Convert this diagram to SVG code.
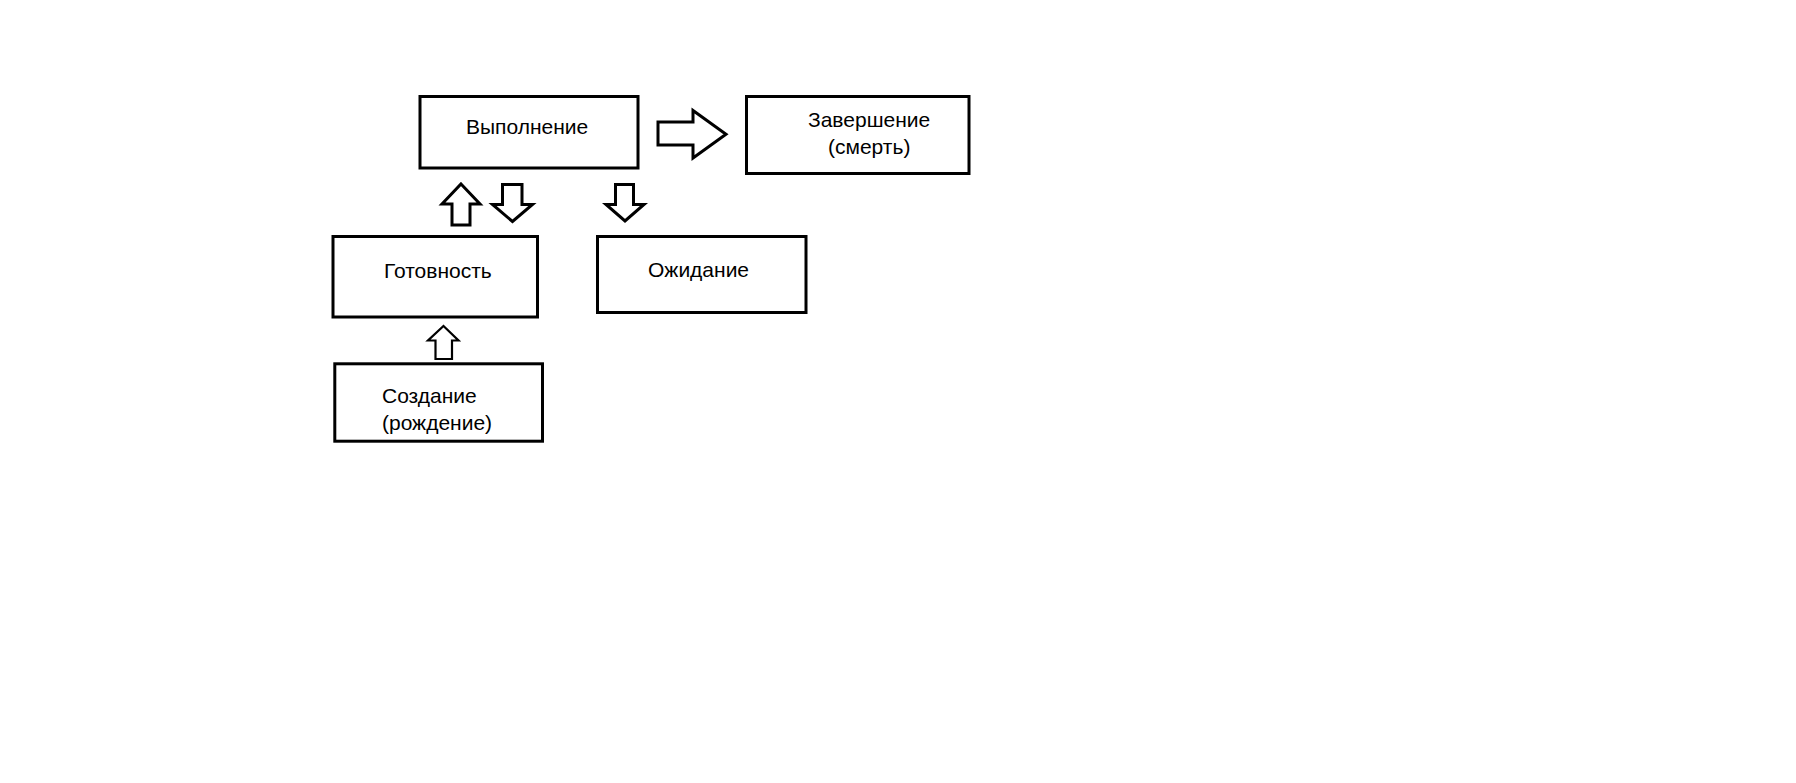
<svg xmlns="http://www.w3.org/2000/svg" width="1796" height="783" viewBox="0 0 1796 783">
  <style>
    .box { fill: #ffffff; stroke: #000000; stroke-width: 3; }
    .arrow { fill: #ffffff; stroke: #000000; stroke-width: 3; stroke-linejoin: miter; }
    .thin { stroke-width: 2.2; }
    text { font-family: "Liberation Sans", "DejaVu Sans", sans-serif; font-size: 21px; fill: #000000; }
  </style>
  <rect x="0" y="0" width="1796" height="783" fill="#ffffff"/>

  <!-- process state nodes -->
  <g id="node-running">
    <rect class="box" x="420" y="96.5" width="218" height="71.5"/>
    <text x="466" y="133.5">Выполнение</text>
  </g>
  <g id="node-terminated">
    <rect class="box" x="746.5" y="96.5" width="222.5" height="77"/>
    <text x="808" y="126.5">Завершение</text>
    <text x="828" y="154">(смерть)</text>
  </g>
  <g id="node-ready">
    <rect class="box" x="333" y="236.5" width="204.5" height="80.5"/>
    <text x="384" y="277.5">Готовность</text>
  </g>
  <g id="node-waiting">
    <rect class="box" x="597.5" y="236.5" width="208.5" height="76"/>
    <text x="648" y="277">Ожидание</text>
  </g>
  <g id="node-created">
    <rect class="box" x="334.8" y="363.8" width="207.7" height="77.4"/>
    <text x="382" y="403">Создание</text>
    <text x="382" y="429.5">(рождение)</text>
  </g>

  <!-- block arrows between states -->
  <g id="connectors">
    <!-- running -> terminated -->
    <polygon class="arrow" points="658,122 693,122 693,110.5 726,134.3 693,158 693,145 658,145"/>
    <!-- ready -> running -->
    <polygon class="arrow" points="461,184 480,204 470,204 470,225 452,225 452,204 442,204"/>
    <!-- running -> ready -->
    <polygon class="arrow" points="502.5,184.5 522,184.5 522,204.5 532.5,204.5 512.5,221.5 492.5,204.5 502.5,204.5"/>
    <!-- running -> waiting -->
    <polygon class="arrow" points="615.5,184.5 633.5,184.5 633.5,204.5 644,204.5 625,221 606,204.5 615.5,204.5"/>
    <!-- created -> ready -->
    <polygon class="arrow thin" points="443.5,326 458.5,340.5 452,340.5 452,359 435.5,359 435.5,340.5 428,340.5"/>
  </g>
</svg>
